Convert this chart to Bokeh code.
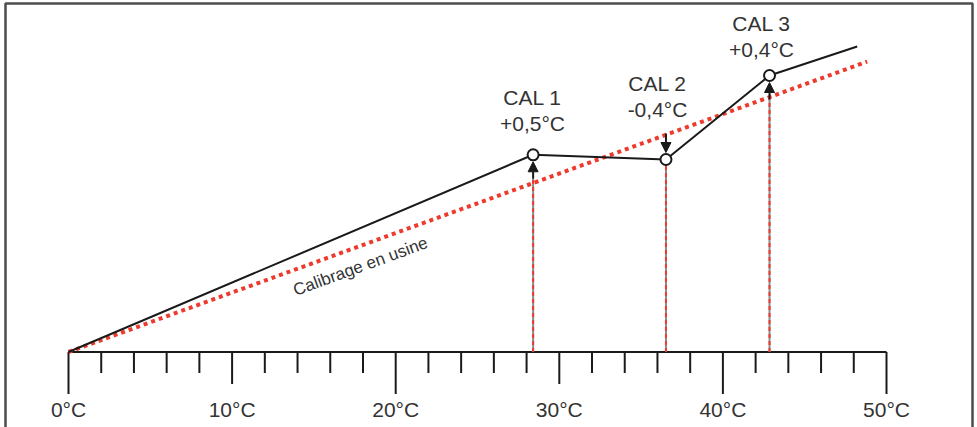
from bokeh.plotting import figure
from bokeh.models import Range1d, Arrow, NormalHead
from bokeh.core.properties import value
from bokeh.embed import file_html
from bokeh.resources import INLINE

# ---------------- data ----------------
minor_ticks = [2, 4, 6, 8, 12, 14, 16, 18, 22, 24, 26, 28, 32, 34, 36, 38, 42, 44, 46, 48]
medium_ticks = [10, 30]
long_ticks = [0, 20, 40, 50]
tick_values = [0, 10, 20, 30, 40, 50]
tick_labels = ["0°C", "10°C", "20°C", "30°C", "40°C", "50°C"]

factory_x = [0, 48.82]
factory_y = [0, 48.4]
factory_label = "Calibrage en usine"

measured_x = [0, 28.4, 36.52, 42.85, 48.21]
measured_y = [0, 32.87, 32.08, 46.08, 50.92]

cal_names = ["CAL 1", "CAL 2", "CAL 3"]
cal_offsets = ["+0,5°C", "-0,4°C", "+0,4°C"]
cal_x = [28.4, 36.52, 42.85]
cal_y = [32.87, 32.08, 46.08]
cal_dir = ["up", "down", "up"]

# ---------------- layout / styles ----------------
W, H = 977, 427
X_ORIGIN, Y_ORIGIN = 68.0, 351.5   # page px of (0, 0)
PX_X = 16.36   # px per degree (x)
PX_Y = 6.0     # px per unit (y)
xr = Range1d(-X_ORIGIN / PX_X, (W - X_ORIGIN) / PX_X)
yr = Range1d((Y_ORIGIN - H) / PX_Y, Y_ORIGIN / PX_Y)

def dy(px):
    return px / PX_Y

def px_x(px):
    return (px - X_ORIGIN) / PX_X

def px_y(py):
    return (Y_ORIGIN - py) / PX_Y

FONT = value("Liberation Sans")
TXT = "#333333"
RED = "#ee3a2c"
BLACK = "#1a1a1a"

p = figure(width=W, height=H, x_range=xr, y_range=yr, output_backend="svg",
           toolbar_location=None, x_axis_type=None, y_axis_type=None,
           min_border=0, tools="")
p.outline_line_color = None
p.background_fill_color = "white"
p.border_fill_color = "white"

# frame border (top/left/right)
p.line(x=[px_x(5), px_x(5), px_x(972), px_x(972)],
       y=[px_y(440), px_y(3), px_y(3), px_y(440)],
       line_color="#4d4d4d", line_width=2.5)

# axis line and ticks
p.segment(x0=[0], y0=[0], x1=[50], y1=[0], line_color=BLACK, line_width=2)
p.segment(x0=minor_ticks, y0=[0] * len(minor_ticks), x1=minor_ticks,
          y1=[-dy(21)] * len(minor_ticks), line_color=BLACK, line_width=2)
p.segment(x0=medium_ticks, y0=[0] * len(medium_ticks), x1=medium_ticks,
          y1=[-dy(32)] * len(medium_ticks), line_color=BLACK, line_width=2)
p.segment(x0=long_ticks, y0=[0] * len(long_ticks), x1=long_ticks,
          y1=[-dy(42)] * len(long_ticks), line_color=BLACK, line_width=2)
p.text(x=tick_values, y=[-dy(57)] * len(tick_values), text=tick_labels,
       text_font=FONT, text_font_size="21px", text_color=TXT,
       text_align="center", text_baseline="middle")

# vertical dashed guides (gray with red dashes)
guide_top = [cy - dy(24) if d == "up" else cy - dy(6) for cy, d in zip(cal_y, cal_dir)]
p.segment(x0=cal_x, y0=[0] * 3, x1=cal_x, y1=guide_top, line_color="#8c8c8c", line_width=2)
p.segment(x0=cal_x, y0=[0] * 3, x1=cal_x, y1=guide_top, line_color=RED, line_width=2,
          line_dash="4 3")

# factory line
p.line(factory_x, factory_y, line_color=RED, line_width=4, line_dash="4 4")
p.text(x=[px_x(360)], y=[px_y(266)], text=[factory_label], angle=0.351,
       text_font=FONT, text_font_size="17px", text_color=TXT,
       text_align="center", text_baseline="middle")

# measured line
p.line(measured_x, measured_y, line_color=BLACK, line_width=2)

# arrows
for cx, cy, d in zip(cal_x, cal_y, cal_dir):
    if d == "up":
        ys, ye = cy - dy(24), cy - dy(7)
    else:
        ys, ye = cy + dy(26), cy + dy(7)
    p.add_layout(Arrow(x_start=cx, y_start=ys, x_end=cx, y_end=ye,
                       line_color=BLACK, line_width=2,
                       end=NormalHead(size=10, fill_color=BLACK, line_color=BLACK, line_width=1)))

# calibration points
p.scatter(cal_x, cal_y, size=11, marker="circle", fill_color="white",
          line_color=BLACK, line_width=2)

# labels
name_x = [px_x(532), px_x(657), px_x(761)]
name_y = [px_y(97), px_y(83), px_y(23)]
p.text(x=name_x, y=name_y, text=cal_names, text_font=FONT, text_font_size="21px",
       text_color=TXT, text_align="center", text_baseline="middle")
p.text(x=name_x, y=[v - dy(26) for v in name_y], text=cal_offsets, text_font=FONT,
       text_font_size="21px", text_color=TXT, text_align="center", text_baseline="middle")

open("out.html", "w").write(file_html(p, INLINE))
